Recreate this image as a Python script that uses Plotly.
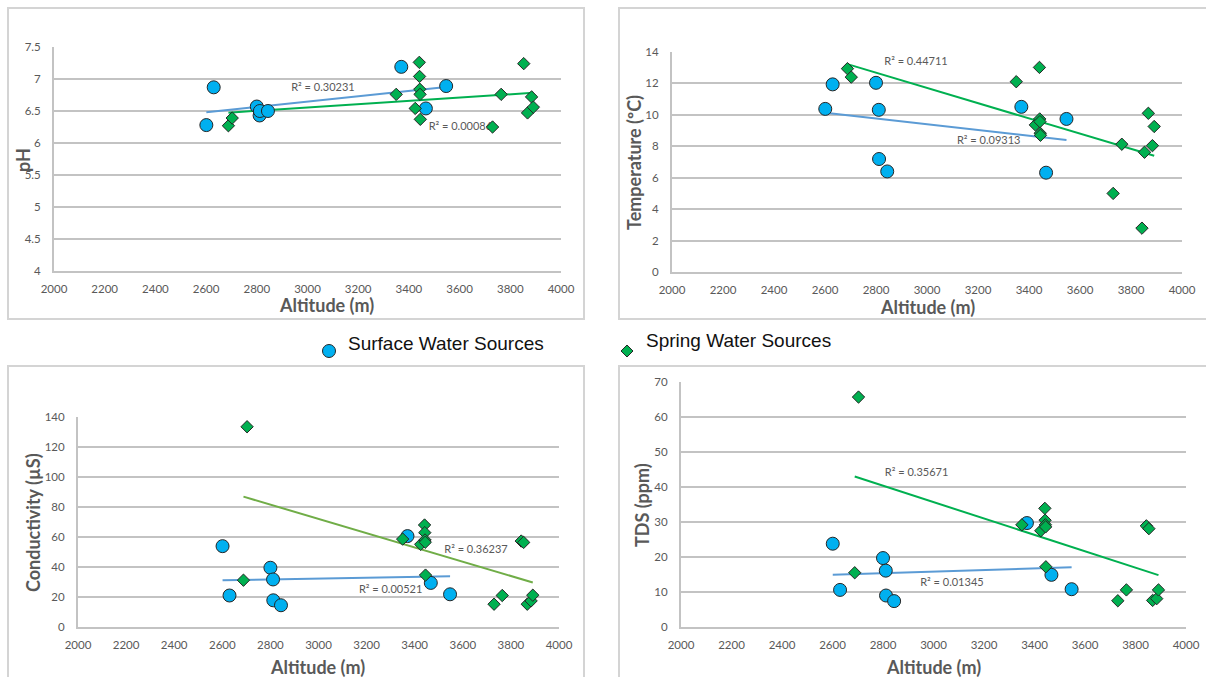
import numpy as np
import plotly.graph_objects as go

W, H = 1206, 677

# ---- data -------------------------------------------------------------
alt_surface = [2601, 2630, 2800, 2811, 2812, 2844, 3370, 3467, 3547]
alt_spring = [2688, 2703, 3350, 3425, 3441, 3442, 3443, 3444, 3445,
              3730, 3764, 3843, 3853, 3868, 3884, 3891]

ph_surface = [6.28, 6.87, 6.57, 6.43, 6.50, 6.50, 7.19, 6.54, 6.89]
ph_spring = [6.27, 6.39, 6.76, 6.54, 7.26, 7.04, 6.84, 6.76, 6.37,
             6.25, 6.76, None, 7.24, 6.47, 6.72, 6.56]

temp_surface = [10.38, 11.94, 12.04, 10.32, 7.19, 6.40, 10.51, 6.32, 9.74]
temp_spring = [12.94, 12.40, 12.11, 9.36, 13.02, 9.74, 9.57, 8.83, 8.70,
               5.00, 8.13, 2.79, 7.62, 10.10, 8.04, 9.26]

cond_surface = [53.9, 21.0, 39.5, 31.7, 17.8, 14.5, 60.6, 29.4, 21.8]
cond_spring = [31.2, 133.5, 58.6, 55.1, 68.0, 62.9, 58.0, 56.5, 34.6,
               15.2, 21.0, 57.3, 56.4, 15.2, 17.4, 21.2]

tds_surface = [23.8, 10.6, 19.7, 16.1, 9.0, 7.4, 29.7, 14.9, 10.8]
tds_spring = [15.5, 65.7, 29.2, 27.5, 33.9, 30.5, 29.2, 28.6, 17.2,
              7.5, 10.6, 28.9, 28.1, 7.6, 8.1, 10.6]

r2_surface = ["0.30231", "0.09313", "0.00521", "0.01345"]
r2_spring = ["0.00086", "0.44711", "0.36237", "0.35671"]

y_titles = ["pH", "Temperature (ºC)", "Conductivity (µS)", "TDS (ppm)"]
y_ranges = [(4, 7.5), (0, 14), (0, 140), (0, 70)]
y_dticks = [0.5, 2, 20, 10]
x_range = (2000, 4000)
x_dtick = 200

# ---- layout geometry (pixels) ----------------------------------------
# plot areas: (left, right, top, bottom)
plot_px = [(54, 561, 47, 271), (672, 1182, 52, 272),
           (78, 559, 417, 627), (681, 1186, 382, 627)]
# outer panel frames: (left, right, top, bottom)
frame_px = [(8, 584, 8, 319), (619, 1212, 8, 319),
            (8, 584, 366, 690), (619, 1212, 366, 690)]
# axis-title centres
xtitle_px = [(326, 305), (927, 307), (317, 667), (933, 667)]
ytitle_px = [(23, 160), (634, 163), (33, 523), (642, 505)]
# R² label centres in data units (surface, spring)
r2_surface_pos = [(3061, 6.85), (3242, 8.32), (3300, 24.7), (3073, 12.6)]
r2_spring_pos = [(3603, 6.25), (2957, 13.32), (3655, 50.9), (2933, 43.9)]

spring_line_colors = ["#00B050", "#00B050", "#70AD47", "#00B050"]
SURF_FILL, SPRING_FILL = "#00B0F0", "#00B050"
SURF_LINE = "#5B9BD5"
EDGE = "#262626"
GRID = "#c3c3c3"
FRAME = "#d4d4d4"
TXT = "#595959"
FONT = "Lato"


def px_x(v):
    return v / W


def px_y(v):
    return 1 - v / H


def trend(xs, ys):
    pts = [(a, b) for a, b in zip(xs, ys) if b is not None]
    xa = np.array([p[0] for p in pts], float)
    ya = np.array([p[1] for p in pts], float)
    k, c = np.polyfit(xa, ya, 1)
    xl = np.array([xa.min(), xa.max()])
    return xl, k * xl + c


surface_sets = [ph_surface, temp_surface, cond_surface, tds_surface]
spring_sets = [ph_spring, temp_spring, cond_spring, tds_spring]

fig = go.Figure()
layout = dict(
    width=W, height=H, margin=dict(l=0, r=0, t=0, b=0),
    paper_bgcolor="white", plot_bgcolor="white", showlegend=False,
    font=dict(family=FONT, color=TXT),
)
shapes, annotations = [], []

for i in range(4):
    sfx = "" if i == 0 else str(i + 1)
    xa, ya = "x" + sfx, "y" + sfx
    l, r, t, b = plot_px[i]

    layout["xaxis" + sfx] = dict(
        domain=[px_x(l), px_x(r)], anchor=ya, range=list(x_range),
        dtick=x_dtick, tick0=x_range[0], showgrid=False, zeroline=False,
        showline=True, linecolor=GRID, linewidth=2, ticks="",
        ticklabelstandoff=6, tickfont=dict(family=FONT, size=11.5, color=TXT),
        automargin=False, fixedrange=True,
    )
    layout["yaxis" + sfx] = dict(
        domain=[px_y(b), px_y(t)], anchor=xa, range=list(y_ranges[i]),
        dtick=y_dticks[i], tick0=y_ranges[i][0], showgrid=True,
        gridcolor=GRID, gridwidth=2, zeroline=False, showline=True,
        linecolor=GRID, linewidth=2, ticks="", ticklabelstandoff=9,
        tickfont=dict(family=FONT, size=11.5, color=TXT),
        automargin=False, fixedrange=True,
    )

    # trend lines
    sx, sy = trend(alt_surface, surface_sets[i])
    fig.add_trace(go.Scatter(x=sx, y=sy, mode="lines", xaxis=xa, yaxis=ya,
                             line=dict(color=SURF_LINE, width=2),
                             hoverinfo="skip"))
    gx, gy = trend(alt_spring, spring_sets[i])
    fig.add_trace(go.Scatter(x=gx, y=gy, mode="lines", xaxis=xa, yaxis=ya,
                             line=dict(color=spring_line_colors[i], width=2),
                             hoverinfo="skip"))

    # R² labels (drawn beneath the markers)
    fig.add_trace(go.Scatter(
        x=[r2_surface_pos[i][0], r2_spring_pos[i][0]],
        y=[r2_surface_pos[i][1], r2_spring_pos[i][1]],
        mode="text", xaxis=xa, yaxis=ya, hoverinfo="skip",
        text=["R² = " + r2_surface[i], "R² = " + r2_spring[i]],
        textposition="middle center",
        textfont=dict(family=FONT, size=11, color=TXT),
    ))

    # markers
    fig.add_trace(go.Scatter(
        x=alt_surface, y=surface_sets[i], mode="markers", xaxis=xa, yaxis=ya,
        name="Surface Water Sources",
        marker=dict(symbol="circle", size=13, color=SURF_FILL,
                    line=dict(color=EDGE, width=1)),
    ))
    fig.add_trace(go.Scatter(
        x=alt_spring, y=spring_sets[i], mode="markers", xaxis=xa, yaxis=ya,
        name="Spring Water Sources",
        marker=dict(symbol="diamond", size=9.5, color=SPRING_FILL,
                    line=dict(color=EDGE, width=1)),
    ))

    # panel frame
    fl, fr, ft, fb = frame_px[i]
    shapes.append(dict(type="rect", xref="paper", yref="paper",
                       x0=px_x(fl), x1=px_x(fr), y0=px_y(fb), y1=px_y(ft),
                       line=dict(color=FRAME, width=2), layer="below"))

    # axis titles
    annotations.append(dict(
        text="<b>Altitude (m)</b>", xref="paper", yref="paper",
        x=px_x(xtitle_px[i][0]), y=px_y(xtitle_px[i][1]),
        xanchor="center", yanchor="middle", showarrow=False,
        font=dict(family=FONT, size=18, color=TXT)))
    annotations.append(dict(
        text="<b>" + y_titles[i] + "</b>", xref="paper", yref="paper",
        x=px_x(ytitle_px[i][0]), y=px_y(ytitle_px[i][1]), textangle=-90,
        xanchor="center", yanchor="middle", showarrow=False,
        font=dict(family=FONT, size=18, color=TXT)))

# shared legend between the two rows
leg_items = [("Surface Water Sources", SURF_FILL, "circle", 329, 351, 346, 343),
             ("Spring Water Sources", SPRING_FILL, "diamond", 627, 351, 644, 340)]
for name, fill, sym, mx, my, tx, ty in leg_items:
    if sym == "circle":
        shapes.append(dict(type="circle", xref="paper", yref="paper",
                           xsizemode="pixel", ysizemode="pixel",
                           xanchor=px_x(mx), yanchor=px_y(my),
                           x0=-6.5, x1=6.5, y0=-6.5, y1=6.5,
                           fillcolor=fill, line=dict(color=EDGE, width=1)))
    else:
        shapes.append(dict(type="path", xref="paper", yref="paper",
                           xsizemode="pixel", ysizemode="pixel",
                           xanchor=px_x(mx), yanchor=px_y(my),
                           path="M -6 0 L 0 6 L 6 0 L 0 -6 Z",
                           fillcolor=fill, line=dict(color=EDGE, width=1)))
    annotations.append(dict(
        text=name, xref="paper", yref="paper", x=px_x(tx), y=px_y(ty),
        xanchor="left", yanchor="middle", showarrow=False,
        font=dict(family="Liberation Sans", size=19, color="#111111")))

layout["shapes"] = shapes
layout["annotations"] = annotations
fig.update_layout(**layout)
fig.write_html("out.html")
